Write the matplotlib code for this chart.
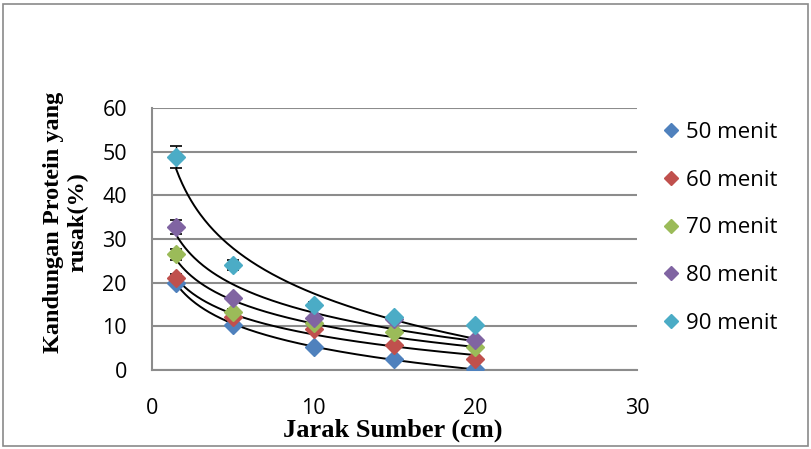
import matplotlib.pyplot as plt
import numpy as np
from matplotlib.patches import Rectangle

distance = [1.5, 5, 10, 15, 20]

labels = ["50 menit", "60 menit", "70 menit", "80 menit", "90 menit"]
colors = ["#4F81BD", "#C0504D", "#9BBB59", "#8064A2", "#4BACC6"]

protein_50 = [19.9, 10.3, 5.2, 2.5, 0.2]
protein_60 = [21.0, 12.2, 9.4, 5.7, 2.5]
protein_70 = [26.5, 13.3, 10.8, 8.7, 5.3]
protein_80 = [32.7, 16.4, 11.9, 11.7, 6.9]
protein_90 = [48.7, 24.0, 14.9, 12.1, 10.3]

err_50 = [0.6, 0.4, 0.4, 0.3, 0.3]
err_60 = [1.0, 0.5, 0.4, 0.4, 0.3]
err_70 = [1.3, 0.6, 0.5, 0.4, 0.4]
err_80 = [1.6, 0.6, 0.5, 0.5, 0.4]
err_90 = [2.5, 1.2, 0.6, 0.5, 0.5]

series = [protein_50, protein_60, protein_70, protein_80, protein_90]
errors = [err_50, err_60, err_70, err_80, err_90]


def main():
    fig = plt.figure(figsize=(8.11, 4.49), dpi=100)
    ax = fig.add_axes([0.1874, 0.176, 0.598, 0.5835])

    fig.patches.append(
        Rectangle((0.004, 0.006), 0.992, 0.986, transform=fig.transFigure,
                  fill=False, edgecolor="#8a8a8a", linewidth=1.2)
    )

    x = np.array(distance)
    x_fit = np.linspace(min(distance), max(distance), 200)

    for values, err, color, label in zip(series, errors, colors, labels):
        y = np.array(values)
        # logarithmic trend line like Excel
        slope, intercept = np.polyfit(np.log(x), y, 1)
        ax.plot(x_fit, slope * np.log(x_fit) + intercept,
                color="black", linewidth=1.4, zorder=2)
        ax.errorbar(x, y, yerr=err, fmt="none", ecolor="black",
                    elinewidth=1.0, capsize=4, capthick=1.2, zorder=3)
        ax.plot(x, y, linestyle="none", marker="D", markersize=9.5,
                color=color, label=label, zorder=4)

    ax.set_xlim(0, 30)
    ax.set_ylim(0, 60)
    ax.set_xticks([0, 10, 20, 30])
    ax.set_yticks(range(0, 61, 10))
    ax.yaxis.grid(True, color="#8c8c8c", linewidth=1.5)
    ax.set_axisbelow(True)

    for side in ["top", "right"]:
        ax.spines[side].set_visible(False)
    for side in ["left", "bottom"]:
        ax.spines[side].set_color("#8c8c8c")
        ax.spines[side].set_linewidth(1.5)

    ax.tick_params(axis="both", length=0, labelsize=15.5)
    ax.tick_params(axis="x", pad=20)
    ax.tick_params(axis="y", pad=18)
    for tick in ax.get_xticklabels() + ax.get_yticklabels():
        tick.set_fontfamily("Open Sans")

    fig.text(393 / 811, 1 - 430 / 449, "Jarak Sumber (cm)", fontsize=19,
             fontweight="bold", fontfamily="Liberation Serif",
             ha="center", va="center")
    fig.text(66 / 811, 1 - 222 / 449, "Kandungan Protein yang\nrusak(%)",
             fontsize=17.5, fontweight="bold", fontfamily="Liberation Serif",
             rotation=90, ha="center", va="center", linespacing=1.2,
             multialignment="center")

    ax.legend(loc="upper left", bbox_to_anchor=(0.806, 0.753),
              bbox_transform=fig.transFigure, frameon=False, borderpad=0,
              prop={"family": "Open Sans", "size": 16}, handlelength=0.6,
              handletextpad=0.37, labelspacing=1.2, markerscale=0.8)

    plt.savefig("out.png", dpi=100)
    plt.close(fig)


if __name__ == "__main__":
    main()
